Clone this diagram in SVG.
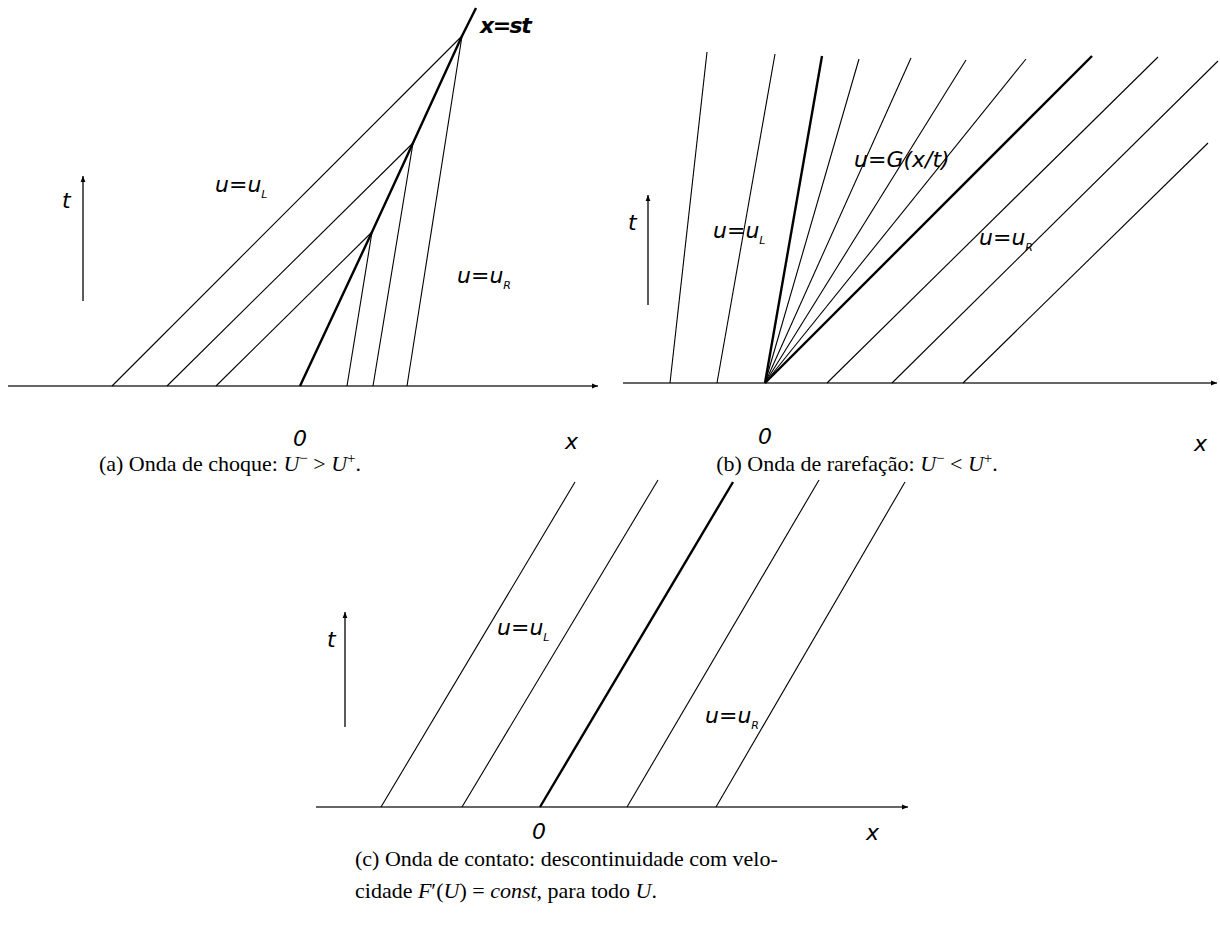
<svg xmlns="http://www.w3.org/2000/svg" width="1220" height="931" viewBox="0 0 1220 931">
<defs>
<marker id="ah" viewBox="0 0 10 10" refX="10" refY="5" markerWidth="8" markerHeight="6" orient="auto" markerUnits="userSpaceOnUse">
<path d="M0,1 L10,5 L0,9 Z" fill="#000"/>
</marker>
</defs>
<style>
.ax{stroke:#333;stroke-width:1.6;fill:none}
.ln{stroke:#000;stroke-width:1.1;fill:none}
.tk{stroke:#000;stroke-width:2.4;fill:none}
.lb{font-family:"DejaVu Sans",sans-serif;font-style:italic;font-size:22px;fill:#000}
.sb{font-family:"DejaVu Sans",sans-serif;font-style:italic;font-size:11px;fill:#000}
.cap{font-family:"Liberation Serif","DejaVu Serif",serif;font-size:22px;fill:#000}
.it{font-style:italic}
</style>
<rect width="1220" height="931" fill="#fff"/>

<g id="panel-a">
<g id="a-connectors">
<line class="ax" x1="8" y1="386" x2="598" y2="386" marker-end="url(#ah)"/>
<line class="ax" x1="83" y1="301" x2="83" y2="176" marker-end="url(#ah)"/>
<line class="ln" x1="112" y1="386" x2="462" y2="36"/>
<line class="ln" x1="167" y1="386" x2="413" y2="143"/>
<line class="ln" x1="216" y1="386" x2="372" y2="232"/>
<line class="ln" x1="347" y1="386" x2="372" y2="232"/>
<line class="ln" x1="373" y1="386" x2="413" y2="143"/>
<line class="ln" x1="407" y1="386" x2="462" y2="36"/>
<polyline class="tk" points="300,386 372,232 413,143 462,36 476,8"/>
</g>
<g id="a-labels">
<text class="lb" x="62" y="208">t</text>
<text class="lb" x="215" y="192">u=u<tspan class="sb" dy="6">L</tspan></text>
<text class="lb" x="457" y="283">u=u<tspan class="sb" dy="6">R</tspan></text>
<text class="lb" x="480" y="33" font-weight="bold" letter-spacing="-1.5">x=st</text>
<text class="lb" x="293" y="446">0</text>
<text class="lb" x="565" y="449">x</text>
</g>
<text class="cap" x="230" y="471" text-anchor="middle">(a) Onda de choque: <tspan class="it">U</tspan><tspan font-size="15" dy="-8">−</tspan><tspan dy="8"> &gt; </tspan><tspan class="it">U</tspan><tspan font-size="15" dy="-8">+</tspan><tspan dy="8">.</tspan></text>
</g>

<g id="panel-b">
<g id="b-connectors">
<line class="ax" x1="623" y1="383" x2="1217" y2="383" marker-end="url(#ah)"/>
<line class="ax" x1="648" y1="305" x2="648" y2="195" marker-end="url(#ah)"/>
<line class="ln" x1="670" y1="383" x2="707" y2="52"/>
<line class="ln" x1="717" y1="383" x2="775" y2="54"/>
<line class="tk" x1="765" y1="383" x2="822" y2="56"/>
<line class="ln" x1="765" y1="383" x2="859" y2="59"/>
<line class="ln" x1="765" y1="383" x2="911" y2="58"/>
<line class="ln" x1="765" y1="383" x2="966" y2="60"/>
<line class="ln" x1="765" y1="383" x2="1026" y2="59"/>
<line class="tk" x1="765" y1="383" x2="1092" y2="56"/>
<line class="ln" x1="827" y1="383" x2="1158" y2="57"/>
<line class="ln" x1="892" y1="383" x2="1218" y2="61"/>
<line class="ln" x1="963" y1="383" x2="1208" y2="143"/>
</g>
<g id="b-labels">
<text class="lb" x="628" y="230">t</text>
<text class="lb" x="713" y="238">u=u<tspan class="sb" dy="6">L</tspan></text>
<text class="lb" x="854" y="167">u=G(x/t)</text>
<text class="lb" x="979" y="245">u=u<tspan class="sb" dy="6">R</tspan></text>
<text class="lb" x="758" y="444">0</text>
<text class="lb" x="1194" y="451">x</text>
</g>
<text class="cap" x="857" y="471" text-anchor="middle">(b) Onda de rarefação: <tspan class="it">U</tspan><tspan font-size="15" dy="-8">−</tspan><tspan dy="8"> &lt; </tspan><tspan class="it">U</tspan><tspan font-size="15" dy="-8">+</tspan><tspan dy="8">.</tspan></text>
</g>

<g id="panel-c">
<g id="c-connectors">
<line class="ax" x1="316" y1="807" x2="908" y2="807" marker-end="url(#ah)"/>
<line class="ax" x1="345" y1="727" x2="345" y2="612" marker-end="url(#ah)"/>
<line class="ln" x1="381" y1="807" x2="575" y2="482"/>
<line class="ln" x1="462" y1="807" x2="658" y2="480"/>
<line class="tk" x1="540" y1="807" x2="733" y2="482"/>
<line class="ln" x1="627" y1="807" x2="819" y2="480"/>
<line class="ln" x1="716" y1="807" x2="905" y2="482"/>
</g>
<g id="c-labels">
<text class="lb" x="327" y="647">t</text>
<text class="lb" x="497" y="635">u=u<tspan class="sb" dy="6">L</tspan></text>
<text class="lb" x="705" y="723">u=u<tspan class="sb" dy="6">R</tspan></text>
<text class="lb" x="532" y="839">0</text>
<text class="lb" x="866" y="840">x</text>
</g>
<text class="cap" x="355" y="866">(c) Onda de contato: descontinuidade com velo-</text>
<text class="cap" x="355" y="898">cidade <tspan class="it">F</tspan>′(<tspan class="it">U</tspan>) = <tspan class="it">const</tspan>, para todo <tspan class="it">U</tspan>.</text>
</g>
</svg>
